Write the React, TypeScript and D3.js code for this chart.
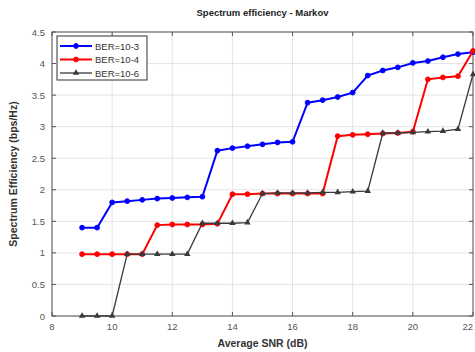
import React from "react";
import * as d3 from "d3";

const snr = [9, 9.5, 10, 10.5, 11, 11.5, 12, 12.5, 13, 13.5, 14, 14.5, 15, 15.5, 16, 16.5, 17, 17.5, 18, 18.5, 19, 19.5, 20, 20.5, 21, 21.5, 22];
const ber3 = [1.4, 1.4, 1.8, 1.82, 1.84, 1.86, 1.87, 1.88, 1.89, 2.62, 2.66, 2.69, 2.72, 2.75, 2.76, 3.38, 3.42, 3.47, 3.54, 3.81, 3.89, 3.94, 4.01, 4.04, 4.1, 4.15, 4.18];
const ber4 = [0.98, 0.98, 0.98, 0.98, 0.98, 1.44, 1.45, 1.45, 1.45, 1.46, 1.93, 1.93, 1.94, 1.94, 1.94, 1.94, 1.94, 2.85, 2.87, 2.88, 2.89, 2.9, 2.92, 3.75, 3.78, 3.8, 4.2];
const ber6 = [0, 0, 0, 0.98, 0.98, 0.98, 0.98, 0.98, 1.47, 1.47, 1.47, 1.48, 1.94, 1.95, 1.95, 1.95, 1.96, 1.96, 1.97, 1.98, 2.9, 2.9, 2.91, 2.92, 2.93, 2.96, 3.83];
const seriesNames = ["BER=10-3", "BER=10-4", "BER=10-6"];
const xTicks = [8, 10, 12, 14, 16, 18, 20, 22];
const yTicks = [0, 0.5, 1, 1.5, 2, 2.5, 3, 3.5, 4, 4.5];

const W = 475;
const H = 352;
const m = { top: 32, right: 2, bottom: 36, left: 52 };

export default function App() {
  const x = d3.scaleLinear().domain([8, 22]).range([m.left, W - m.right]);
  const y = d3.scaleLinear().domain([0, 4.5]).range([H - m.bottom, m.top]);

  const series = [
    { name: seriesNames[0], values: ber3, color: "#0000ff", width: 2, marker: "circle" },
    { name: seriesNames[1], values: ber4, color: "#ff0000", width: 2, marker: "circle" },
    { name: seriesNames[2], values: ber6, color: "#3a3a3a", width: 1.3, marker: "triangle" },
  ];

  const line = d3.line<number>().x((_, i) => x(snr[i])).y((d) => y(d));
  const tri = d3.symbol().type(d3.symbolTriangle).size(18);

  const marker = (kind: string, cx: number, cy: number, color: string, key: any) =>
    kind === "circle" ? (
      <circle key={key} cx={cx} cy={cy} r={2.4} fill={color} stroke={color} />
    ) : (
      <path key={key} d={tri() as string} transform={`translate(${cx},${cy})`} fill={color} />
    );

  const x0 = m.left, x1 = W - m.right, y0 = H - m.bottom, y1 = m.top;

  return (
    <svg
      width={W}
      height={H}
      style={{ position: "absolute", left: 0, top: 0, background: "#fff" }}
      fontFamily="Liberation Sans, Arial, sans-serif"
    >
      {/* grid */}
      {xTicks.map((t) => (
        <line key={"gx" + t} x1={x(t)} x2={x(t)} y1={y0} y2={y1} stroke="#e4e4e4" strokeWidth={1} />
      ))}
      {yTicks.map((t) => (
        <line key={"gy" + t} x1={x0} x2={x1} y1={y(t)} y2={y(t)} stroke="#e4e4e4" strokeWidth={1} />
      ))}
      {/* ticks */}
      {xTicks.map((t) => (
        <g key={"tx" + t}>
          <line x1={x(t)} x2={x(t)} y1={y0} y2={y0 - 4} stroke="#555" />
          <line x1={x(t)} x2={x(t)} y1={y1} y2={y1 + 4} stroke="#555" />
          <text
            x={Math.min(x(t), W - 1)}
            y={y0 + 14}
            fontSize={9.5}
            fill="#555"
            textAnchor={x(t) + 6 > W ? "end" : "middle"}
          >
            {t}
          </text>
        </g>
      ))}
      {yTicks.map((t) => (
        <g key={"ty" + t}>
          <line x1={x0} x2={x0 + 4} y1={y(t)} y2={y(t)} stroke="#555" />
          <line x1={x1} x2={x1 - 4} y1={y(t)} y2={y(t)} stroke="#555" />
          <text x={x0 - 7} y={y(t) + 3.5} fontSize={9.5} fill="#555" textAnchor="end">
            {t}
          </text>
        </g>
      ))}
      <rect x={x0} y={y1} width={x1 - x0} height={y0 - y1} fill="none" stroke="#555" strokeWidth={1} />

      {/* lines */}
      {series.map((s) => (
        <g key={s.name}>
          <path d={line(s.values) as string} fill="none" stroke={s.color} strokeWidth={s.width} />
          {s.values.map((v, i) => marker(s.marker, x(snr[i]), y(v), s.color, i))}
        </g>
      ))}

      {/* legend */}
      <rect x={57} y={36} width={90} height={44} fill="#fff" stroke="#333" strokeWidth={1} />
      {series.map((s, i) => {
        const ly = 46 + i * 13.5;
        return (
          <g key={"lg" + s.name}>
            <line x1={60} x2={92} y1={ly} y2={ly} stroke={s.color} strokeWidth={s.width} />
            {marker(s.marker, 76, ly, s.color, "m")}
            <text x={95} y={ly + 3.5} fontSize={9.5} fill="#333">
              {s.name}
            </text>
          </g>
        );
      })}

      {/* titles */}
      <text x={(x0 + x1) / 2} y={16} fontSize={9.5} fontWeight="bold" textAnchor="middle" fill="#222">
        Spectrum efficiency - Markov
      </text>
      <text x={(x0 + x1) / 2} y={347} fontSize={10.5} fontWeight="bold" textAnchor="middle" fill="#333">
        Average SNR (dB)
      </text>
      <text
        transform={`translate(17,${(y0 + y1) / 2}) rotate(-90)`}
        fontSize={10.5}
        fontWeight="bold"
        textAnchor="middle"
        fill="#333"
      >
        Spectrum Efficiency (bps/Hz)
      </text>
    </svg>
  );
}
